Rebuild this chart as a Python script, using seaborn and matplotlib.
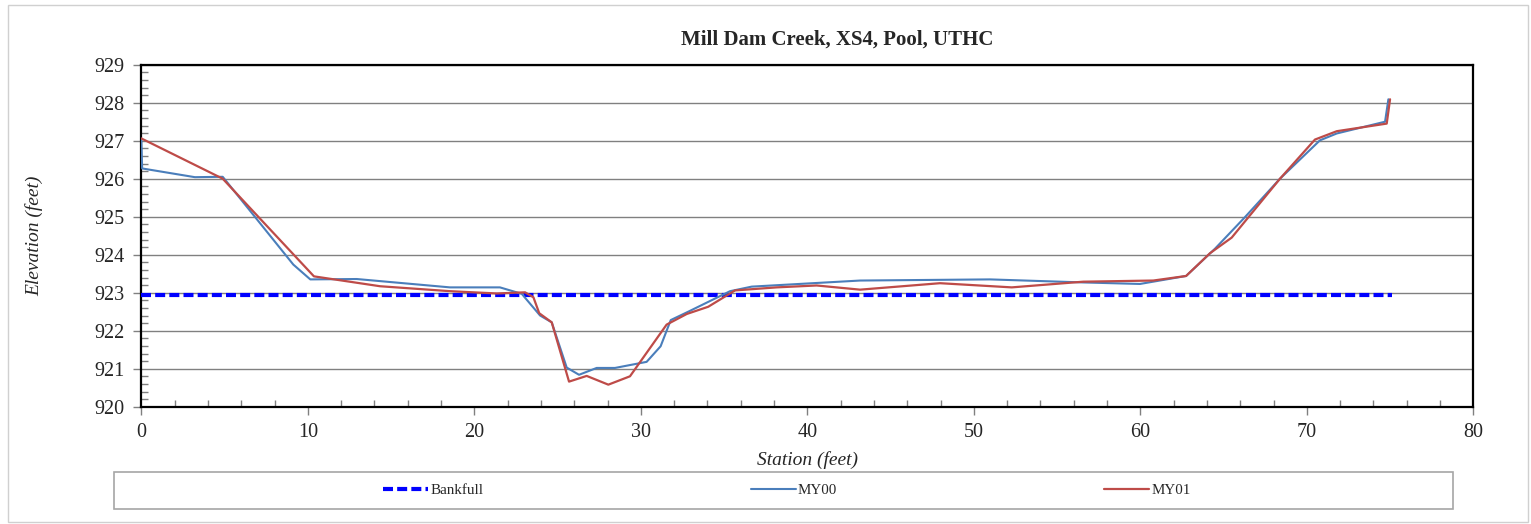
import matplotlib
matplotlib.use("Agg")
import matplotlib.pyplot as plt
from matplotlib.patches import Rectangle
from matplotlib.ticker import MultipleLocator
import seaborn as sns
import pandas as pd

# Cross-section survey, Mill Dam Creek XS4 (pool)
my00_station = [0.0, 0.05, 3.22, 4.89, 9.13, 10.15, 12.94, 18.54, 21.54, 22.85,
                23.95, 24.65, 25.55, 26.29, 27.35, 28.45, 30.35, 31.19, 31.8, 32.85,
                35.36, 36.66, 43.17, 50.97, 56.58, 59.98, 62.75, 64.49, 66.29, 68.39,
                70.79, 71.8, 74.7, 74.9]
my00_elev = [927.05, 926.27, 926.04, 926.05, 923.74, 923.35, 923.36, 923.14, 923.14, 922.97,
             922.40, 922.22, 921.03, 920.84, 921.02, 921.02, 921.18, 921.59, 922.28, 922.50,
             923.04, 923.16, 923.32, 923.35, 923.27, 923.23, 923.44, 924.16, 924.99, 926.00,
             927.01, 927.19, 927.50, 928.09]

my01_station = [0.0, 4.89, 10.37, 14.34, 18.54, 21.35, 23.05, 23.55, 23.9, 24.65,
                25.69, 26.75, 28.05, 29.35, 31.55, 32.76, 34.05, 35.66, 38.16, 40.56,
                43.17, 47.97, 52.28, 56.58, 60.78, 62.75, 64.19, 65.49, 68.39, 70.49,
                71.8, 74.8, 75.0]
my01_elev = [927.06, 926.00, 923.43, 923.17, 923.04, 922.98, 923.01, 922.88, 922.46, 922.22,
             920.66, 920.81, 920.58, 920.80, 922.16, 922.44, 922.63, 923.06, 923.14, 923.19,
             923.08, 923.25, 923.14, 923.29, 923.32, 923.44, 924.04, 924.45, 926.00, 927.03,
             927.25, 927.45, 928.09]

bankfull_station = [0.0, 75.1]
bankfull_elev = [922.95, 922.95]

title = "Mill Dam Creek, XS4, Pool, UTHC"
x_label = "Station (feet)"
y_label = "Elevation (feet)"

sns.set_style("white")
plt.rcParams["font.family"] = ["Liberation Serif", "DejaVu Serif"]

W, H = 1531, 524
fig = plt.figure(figsize=(W / 100, H / 100), dpi=100)
ax = fig.add_axes([141.3 / W, 1 - 406.7 / H, (1473.3 - 141.3) / W, (406.7 - 64.7) / H])

bank_df = pd.DataFrame({"station": bankfull_station, "elev": bankfull_elev})
my00_df = pd.DataFrame({"station": my00_station, "elev": my00_elev})
my01_df = pd.DataFrame({"station": my01_station, "elev": my01_elev})

sns.lineplot(data=bank_df, x="station", y="elev", ax=ax, color="#0000FF",
             linewidth=3.0, sort=False, estimator=None, label="Bankfull",
             dashes=False, zorder=3)
ax.lines[-1].set_dashes((2.4, 1.0))
sns.lineplot(data=my00_df, x="station", y="elev", ax=ax, color="#4A7EBB",
             linewidth=1.5, sort=False, estimator=None, label="MY00", zorder=4)
sns.lineplot(data=my01_df, x="station", y="elev", ax=ax, color="#BE4B48",
             linewidth=1.6, sort=False, estimator=None, label="MY01", zorder=5)

ax.set_xlim(0, 80)
ax.set_ylim(920, 929)
ax.xaxis.set_major_locator(MultipleLocator(10))
ax.xaxis.set_minor_locator(MultipleLocator(2))
ax.yaxis.set_major_locator(MultipleLocator(1))
ax.yaxis.set_minor_locator(MultipleLocator(0.2))
ax.grid(True, which="major", axis="y", color="#808080", linewidth=1.0)
ax.grid(False, axis="x")
ax.set_axisbelow(True)
ax.tick_params(axis="both", which="major", direction="out", length=6, width=1,
               color="#808080", labelsize=14.5, pad=6, left=True, bottom=True)
ax.tick_params(axis="both", which="minor", direction="in", length=5, width=1,
               color="#808080", left=True, bottom=True)
for s in ax.spines.values():
    s.set_color("black")
    s.set_linewidth(1.6)

ax.set_xlabel(x_label, fontsize=14, style="italic", labelpad=6)
ax.set_ylabel(y_label, fontsize=14, style="italic")
ax.yaxis.set_label_coords(-(141.3 - 43) / (1473.3 - 141.3), 0.5)

fig.text(993 / W, 1 - 40 / H, title, fontsize=15, fontweight="bold",
         ha="right", va="center")

handles, labels = ax.get_legend_handles_labels()
ax.get_legend().remove()
fig.patches.append(Rectangle((114.3 / W, 1 - 509 / H), (1453 - 114.3) / W, (509 - 471.7) / H,
                             transform=fig.transFigure, facecolor="white",
                             edgecolor="#a6a6a6", linewidth=1.2, zorder=0))
fig.legend(handles, labels, loc="center", bbox_to_anchor=(787 / W, 1 - 490 / H),
           ncol=3, frameon=False, fontsize=10.8, handlelength=3.0, handletextpad=0.15,
           columnspacing=17.8)

fig.patches.append(Rectangle((8 / W, 1 - 522 / H), 1520 / W, 517 / H,
                             transform=fig.transFigure, facecolor="none",
                             edgecolor="#d0d0d0", linewidth=1.0, zorder=0))

fig.savefig("out.png", dpi=100)
